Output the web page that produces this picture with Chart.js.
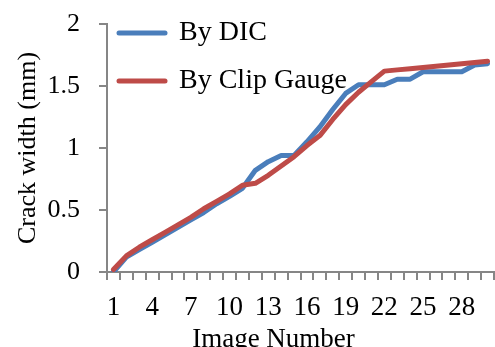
<!DOCTYPE html>
<html>
<head>
<meta charset="utf-8">
<script src="https://cdn.jsdelivr.net/npm/chart.js@4.4.1/dist/chart.umd.min.js"></script>
<style>
html,body{margin:0;padding:0;background:#fff;overflow:hidden;}
#wrap{width:495px;height:353px;position:relative;}
</style>
</head>
<body>
<div id="wrap"><canvas id="c"></canvas></div>
<script>
const categories = Array.from({length: 30}, (_, i) => String(i + 1));
const dicValues = [0.00, 0.12, 0.18, 0.24, 0.30, 0.36, 0.42, 0.48, 0.55, 0.61, 0.675,
  0.82, 0.89, 0.94, 0.94, 1.05, 1.17, 1.31, 1.44, 1.51, 1.51, 1.51, 1.555, 1.555,
  1.615, 1.615, 1.615, 1.615, 1.67, 1.68];
const clipValues = [0.02, 0.13, 0.20, 0.26, 0.32, 0.38, 0.44, 0.51, 0.57, 0.63, 0.70,
  0.715, 0.78, 0.855, 0.93, 1.02, 1.10, 1.23, 1.35, 1.45, 1.535, 1.62, 1.63, 1.64,
  1.65, 1.66, 1.67, 1.68, 1.69, 1.70];
const yTicks = [0, 0.5, 1, 1.5, 2];
const seriesNames = ['By DIC', 'By Clip Gauge'];
const xTitle = 'Image Number';
const yTitle = 'Crack width (mm)';

const FONT = "'Liberation Serif', 'Times New Roman', serif";
const AXIS = '#868686';
const NB = '\u00a0';

// move the built-in legend box so it overlaps the top-left of the plot, as in the original
const legendPlacer = {
  id: 'legendPlacer',
  afterLayout(chart) {
    const lg = chart.legend;
    if (!lg) return;
    lg.left = chart.chartArea.left + 2;
    lg.top = 9;
  }
};

new Chart(document.getElementById('c'), {
  type: 'line',
  data: {
    labels: categories,
    datasets: [
      {label: seriesNames[0], data: dicValues, borderColor: '#4a7ebb', backgroundColor: '#4a7ebb',
       borderWidth: 5, pointRadius: 0, tension: 0, order: 1, borderCapStyle: 'round', borderJoinStyle: 'round'},
      {label: seriesNames[1], data: clipValues, borderColor: '#be4b48', backgroundColor: '#be4b48',
       borderWidth: 5, pointRadius: 0, tension: 0, order: 0, borderCapStyle: 'round', borderJoinStyle: 'round'}
    ]
  },
  plugins: [legendPlacer],
  options: {
    responsive: true,
    maintainAspectRatio: false,
    animation: false,
    layout: {padding: {top: 24, right: 1, left: 0, bottom: 0}},
    plugins: {
      tooltip: {enabled: false},
      legend: {
        position: 'chartArea',
        align: 'start',
        labels: {
          usePointStyle: true,
          pointStyle: 'line',
          pointStyleWidth: 46,
          padding: 10,
          color: '#000',
          font: {family: FONT, size: 28, lineHeight: '38px'},
          generateLabels: (chart) => {
            const items = Chart.defaults.plugins.legend.labels.generateLabels(chart);
            items.forEach(it => { it.text = [it.text]; it.lineCap = 'round'; });
            return items;
          },
          sort: (a, b) => a.datasetIndex - b.datasetIndex
        }
      }
    },
    scales: {
      x: {
        type: 'category',
        offset: true,
        grid: {display: true, offset: true, drawOnChartArea: false, drawTicks: true, tickLength: 8, color: AXIS, lineWidth: 2},
        border: {display: true, color: AXIS, width: 2},
        ticks: {
          autoSkip: false, maxRotation: 0, minRotation: 0, padding: 12, color: '#000',
          font: {family: FONT, size: 27},
          callback: function(v, i) { return i % 3 === 0 ? this.getLabelForValue(v) : ''; }
        },
        title: {display: true, text: xTitle + NB.repeat(8), color: '#000', font: {family: FONT, size: 27, lineHeight: 1.0}, padding: {top: 0, bottom: 0}},
        afterFit: (s) => { s.height = 81; s.paddingLeft = 0; s.paddingRight = 0; }
      },
      y: {
        min: 0, max: 2,
        afterBuildTicks: (s) => { s.ticks = yTicks.map(v => ({value: v})); },
        grid: {display: true, drawOnChartArea: false, drawTicks: true, tickLength: 8, color: AXIS, lineWidth: 2},
        border: {display: true, color: AXIS, width: 2},
        ticks: {padding: 19, color: '#000', font: {family: FONT, size: 26}, callback: (v) => String(v)},
        title: {display: true, text: yTitle, color: '#000', font: {family: FONT, size: 26, lineHeight: 1.0}, padding: {top: 15, bottom: 0}},
        afterFit: (s) => { s.width = 107; s.paddingTop = 0; s.paddingBottom = 0; }
      }
    }
  }
});
</script>
</body>
</html>
